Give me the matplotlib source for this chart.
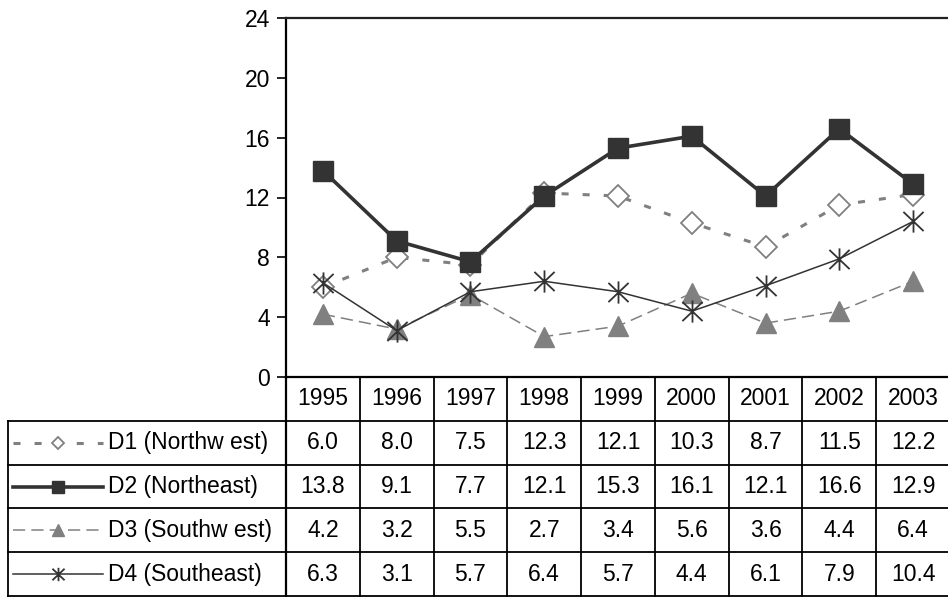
import matplotlib
matplotlib.use("Agg")
import matplotlib.pyplot as plt
from matplotlib.path import Path

plt.rcParams["font.family"] = ["Liberation Sans", "DejaVu Sans"]

years = [1995, 1996, 1997, 1998, 1999, 2000, 2001, 2002, 2003]
d1_northwest = [6.0, 8.0, 7.5, 12.3, 12.1, 10.3, 8.7, 11.5, 12.2]
d2_northeast = [13.8, 9.1, 7.7, 12.1, 15.3, 16.1, 12.1, 16.6, 12.9]
d3_southwest = [4.2, 3.2, 5.5, 2.7, 3.4, 5.6, 3.6, 4.4, 6.4]
d4_southeast = [6.3, 3.1, 5.7, 6.4, 5.7, 4.4, 6.1, 7.9, 10.4]
series_labels = ["D1 (Northw est)", "D2 (Northeast)", "D3 (Southw est)", "D4 (Southeast)"]
y_ticks = [0, 4, 8, 12, 16, 20, 24]

series = [d1_northwest, d2_northeast, d3_southwest, d4_southeast]

DARK = "#333333"
GRAY = "#808080"
FS = 16.5

# asterisk marker: vertical stroke plus an X
star = Path([(0, -1.1), (0, 1.1), (-1, -0.95), (1, 0.95), (-1, 0.95), (1, -0.95)],
            [Path.MOVETO, Path.LINETO, Path.MOVETO, Path.LINETO, Path.MOVETO, Path.LINETO])

styles = [
    dict(color=GRAY, lw=2.2, dashes=(2.3, 4.6), marker="D", ms=11, mfc="white", mec=GRAY, mew=1.3),
    dict(color=DARK, lw=2.6, ls="-", marker="s", ms=15, mfc=DARK, mec=DARK, mew=1),
    dict(color=GRAY, lw=1.1, dashes=(8, 4), marker="^", ms=15, mfc=GRAY, mec=GRAY, mew=1),
    dict(color=DARK, lw=1.1, ls="-", marker=star, ms=16, mfc="none", mec=DARK, mew=1.3),
]

W, H = 948, 597
fig = plt.figure(figsize=(W / 100, H / 100), dpi=100)

# plot area and data table share the same column geometry
x0, x1 = 286 / W, 950 / W
ax = fig.add_axes([x0, 1 - 377 / H, x1 - x0, (377 - 18) / H])
ax_tab = fig.add_axes([x0, 1 / H, x1 - x0, (596 - 377) / H])

xs = list(range(len(years)))
for vals, st in zip(series, styles):
    ax.plot(xs, vals, **st)

ax.set_xlim(-0.5, len(years) - 0.5)
ax.set_ylim(0, 24)
ax.set_yticks(y_ticks)
ax.set_xticks([])
ax.tick_params(axis="y", direction="out", length=6.5, width=1.2, pad=5, labelsize=FS)
for side in ["left", "top", "bottom"]:
    ax.spines[side].set_linewidth(1.6)
    ax.spines[side].set_color("black")
ax.spines["top"].set_color("#222222")
ax.spines["right"].set_visible(False)

# ---- data table under the chart ----
ncol = len(years)
label_w = (286 - 8) / ((950 - 286) / ncol)
left = -0.5 - label_w
right = ncol - 0.5
ax_tab.set_xlim(-0.5, right)
ax_tab.set_ylim(5, 0)
ax_tab.axis("off")

lk = dict(color="black", lw=1.3, clip_on=False, solid_capstyle="projecting")
for r in range(1, 6):
    ax_tab.plot([left, right], [r, r], **lk)
ax_tab.plot([-0.5, -0.5], [0, 5], color="black", lw=1.6, clip_on=False)
for c in range(1, ncol + 1):
    ax_tab.plot([c - 0.5, c - 0.5], [0, 5], **lk)
ax_tab.plot([left, left], [1, 5], **lk)

for c, yr in enumerate(years):
    ax_tab.text(c, 0.5, str(yr), ha="center", va="center", fontsize=FS)

px = (950 - 286) / ncol
line_a = -0.5 - (286 - 13) / px
line_b = -0.5 - (286 - 103) / px
mark_x = -0.5 - (286 - 58) / px
text_x = -0.5 - (286 - 108) / px
for r, (vals, st, lab) in enumerate(zip(series, styles, series_labels), start=1):
    yc = r + 0.5
    for c, v in enumerate(vals):
        ax_tab.text(c, yc, f"{v:.1f}", ha="center", va="center", fontsize=FS)
    leg = dict(st)
    leg.pop("marker")
    ms = leg.pop("ms")
    mfc, mec, mew = leg.pop("mfc"), leg.pop("mec"), leg.pop("mew")
    ax_tab.plot([line_a, line_b], [yc, yc], clip_on=False, **leg)
    ax_tab.plot([mark_x], [yc], marker=st["marker"], ms=ms * 0.6, mfc=mfc, mec=mec,
                mew=mew, ls="none", clip_on=False)
    ax_tab.text(text_x, yc, lab, ha="left", va="center", fontsize=FS)

fig.savefig("out.png", dpi=100)
